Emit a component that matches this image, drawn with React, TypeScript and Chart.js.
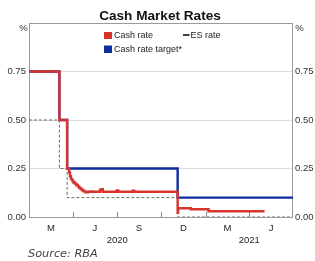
import React, { useEffect, useRef } from "react";
import { Chart, registerables } from "chart.js";
Chart.register(...registerables);

const START = "2020-01-01";
const END = "2021-07-01";

const cashRateDates = [
  "2020-01-01", "2020-03-04", "2020-03-20", "2020-03-24", "2020-03-26", "2020-03-28",
  "2020-03-31", "2020-04-02", "2020-04-05", "2020-04-08", "2020-04-11", "2020-04-14",
  "2020-04-17", "2020-04-20", "2020-04-23", "2020-04-27", "2020-05-02", "2020-05-07",
  "2020-05-12", "2020-05-27", "2020-05-30", "2020-06-02", "2020-07-01", "2020-07-04",
  "2020-08-03", "2020-08-06", "2020-11-04", "2020-11-05", "2020-12-01", "2021-01-07",
  "2021-05-03",
];
const cashRateValues = [
  0.75, 0.5, 0.25, 0.23, 0.21, 0.195,
  0.185, 0.178, 0.172, 0.165, 0.158, 0.15,
  0.144, 0.138, 0.132, 0.127, 0.13, 0.132,
  0.13, 0.14, 0.143, 0.13, 0.137, 0.13,
  0.136, 0.13, 0.022, 0.045, 0.04, 0.03,
  0.03,
];

const targetDates = ["2020-01-01", "2020-03-04", "2020-03-20", "2020-11-04", "2021-07-01"];
const targetValues = [0.75, 0.5, 0.25, 0.1, 0.1];

const esDates = ["2020-01-01", "2020-03-04", "2020-03-20", "2020-11-04", "2021-07-01"];
const esValues = [0.5, 0.25, 0.1, 0, 0];

const yTickValues = [0, 0.25, 0.5, 0.75, 1];
const quarterStarts = ["2020-01-01", "2020-04-01", "2020-07-01", "2020-10-01", "2021-01-01", "2021-04-01", "2021-07-01"];
const quarterLabels = ["M", "J", "S", "D", "M", "J"];
const yearStarts = ["2020-01-01", "2021-01-01", "2021-07-01"];
const yearLabels = ["2020", "2021"];

const TITLE = "Cash Market Rates";
const SOURCE = "Source: RBA";

const RED = "#d8342e";
const BLUE = "#0b2e9c";

const dayOf = (s: string) =>
  (Date.parse(s + "T00:00:00Z") - Date.parse(START + "T00:00:00Z")) / 86400000;

const toPoints = (dates: string[], vals: number[]) =>
  dates.map((d, i) => ({ x: dayOf(d), y: vals[i] }));

const FONT = "Arial, 'Liberation Sans', sans-serif";

const decorPlugin = {
  id: "decor",
  beforeDatasetsDraw(chart: any) {
    const { ctx, chartArea: a } = chart;
    ctx.save();
    ctx.strokeStyle = "#9a9a9a";
    ctx.lineWidth = 1;
    ctx.strokeRect(a.left + 0.5, a.top + 0.5, a.right - a.left - 1, a.bottom - a.top);
    const xs = chart.scales.x;
    ctx.strokeStyle = "#8a8a8a";
    for (let i = 1; i < quarterStarts.length - 1; i++) {
      const px = Math.round(xs.getPixelForValue(dayOf(quarterStarts[i]))) + 0.5;
      ctx.beginPath();
      ctx.moveTo(px, a.bottom);
      ctx.lineTo(px, a.bottom - 5);
      ctx.stroke();
    }
    ctx.restore();
  },
  afterDraw(chart: any) {
    const { ctx } = chart;
    const xs = chart.scales.x;
    ctx.save();
    ctx.fillStyle = "#111";
    ctx.font = `bold 13.6px ${FONT}`;
    ctx.textAlign = "center";
    ctx.textBaseline = "alphabetic";
    ctx.fillText(TITLE, 160, 19.5);

    ctx.font = `9.5px ${FONT}`;
    ctx.fillStyle = "#333";
    ctx.textBaseline = "middle";
    ctx.fillText("%", 23.5, 28.5);
    ctx.fillText("%", 299.5, 28.5);

    ctx.fillStyle = "#222";
    for (let i = 0; i < quarterLabels.length; i++) {
      const c = (dayOf(quarterStarts[i]) + dayOf(quarterStarts[i + 1])) / 2;
      ctx.fillText(quarterLabels[i], xs.getPixelForValue(c), 228);
    }
    for (let i = 0; i < yearLabels.length; i++) {
      const c = (dayOf(yearStarts[i]) + dayOf(yearStarts[i + 1])) / 2;
      ctx.fillText(yearLabels[i], xs.getPixelForValue(c), 240);
    }

    ctx.textAlign = "left";
    ctx.font = `9px ${FONT}`;
    ctx.fillStyle = RED;
    ctx.fillRect(104, 32, 8, 7);
    ctx.fillStyle = BLUE;
    ctx.fillRect(104, 45.5, 8, 7.5);
    ctx.fillStyle = "#222";
    ctx.fillText("Cash rate", 114, 36);
    ctx.fillText("Cash rate target*", 114, 49.5);
    ctx.strokeStyle = "#111";
    ctx.lineWidth = 1.6;
    ctx.beginPath();
    ctx.moveTo(183, 35);
    ctx.lineTo(189.5, 35);
    ctx.stroke();
    ctx.fillText("ES rate", 190.5, 36);

    ctx.font = `italic 11.3px 'DejaVu Sans', sans-serif`;
    ctx.fillStyle = "#444";
    ctx.fillText(SOURCE, 28, 254);
    ctx.restore();
  },
};

export default function App() {
  const ref = useRef<HTMLCanvasElement | null>(null);
  useEffect(() => {
    document.body.style.margin = "0";
    if (!ref.current) return;
    const yAxisCommon = {
      type: "linear" as const,
      min: 0,
      max: 1,
      afterBuildTicks: (s: any) => {
        s.ticks = yTickValues.map((v) => ({ value: v }));
      },
      border: { display: false },
      ticks: {
        font: { family: FONT, size: 9.5 },
        color: "#333",
        callback: (v: any) => (Number(v) >= 1 ? "" : Number(v).toFixed(2)),
      },
    };
    const chart = new Chart(ref.current, {
      type: "line",
      data: {
        datasets: [
          {
            label: "Cash rate",
            data: toPoints(cashRateDates, cashRateValues),
            borderColor: RED,
            borderWidth: 2.4,
            stepped: true,
            pointRadius: 0,
            order: 0,
          },
          {
            label: "Cash rate target*",
            data: toPoints(targetDates, targetValues),
            borderColor: BLUE,
            borderWidth: 2.4,
            stepped: true,
            pointRadius: 0,
            order: 1,
          },
          {
            label: "ES rate",
            data: toPoints(esDates, esValues),
            borderColor: "#6a6a6a",
            borderWidth: 1,
            borderDash: [3, 2],
            stepped: true,
            pointRadius: 0,
            order: 2,
          },
        ],
      },
      options: {
        animation: false,
        responsive: true,
        maintainAspectRatio: false,
        events: [],
        layout: { padding: { top: 23, left: 0, right: 0, bottom: 0 } },
        plugins: { legend: { display: false }, title: { display: false }, tooltip: { enabled: false } },
        scales: {
          x: {
            type: "linear",
            min: dayOf(START),
            max: dayOf(END),
            ticks: { display: false },
            grid: { display: false },
            border: { display: false },
            afterFit: (s: any) => {
              s.height = 44;
            },
          },
          y: {
            ...yAxisCommon,
            position: "left",
            grid: { color: "#dcdcdc", drawTicks: false },
            ticks: { ...yAxisCommon.ticks, padding: 3 },
            afterFit: (s: any) => {
              s.width = 29;
            },
          },
          y2: {
            ...yAxisCommon,
            position: "right",
            grid: { display: false, drawTicks: false },
            ticks: { ...yAxisCommon.ticks, padding: 2 },
            afterFit: (s: any) => {
              s.width = 22;
            },
          },
        },
      },
      plugins: [decorPlugin],
    } as any);
    return () => chart.destroy();
  }, []);
  return (
    <div style={{ width: 315, height: 261, position: "relative" }}>
      <canvas ref={ref} />
    </div>
  );
}
